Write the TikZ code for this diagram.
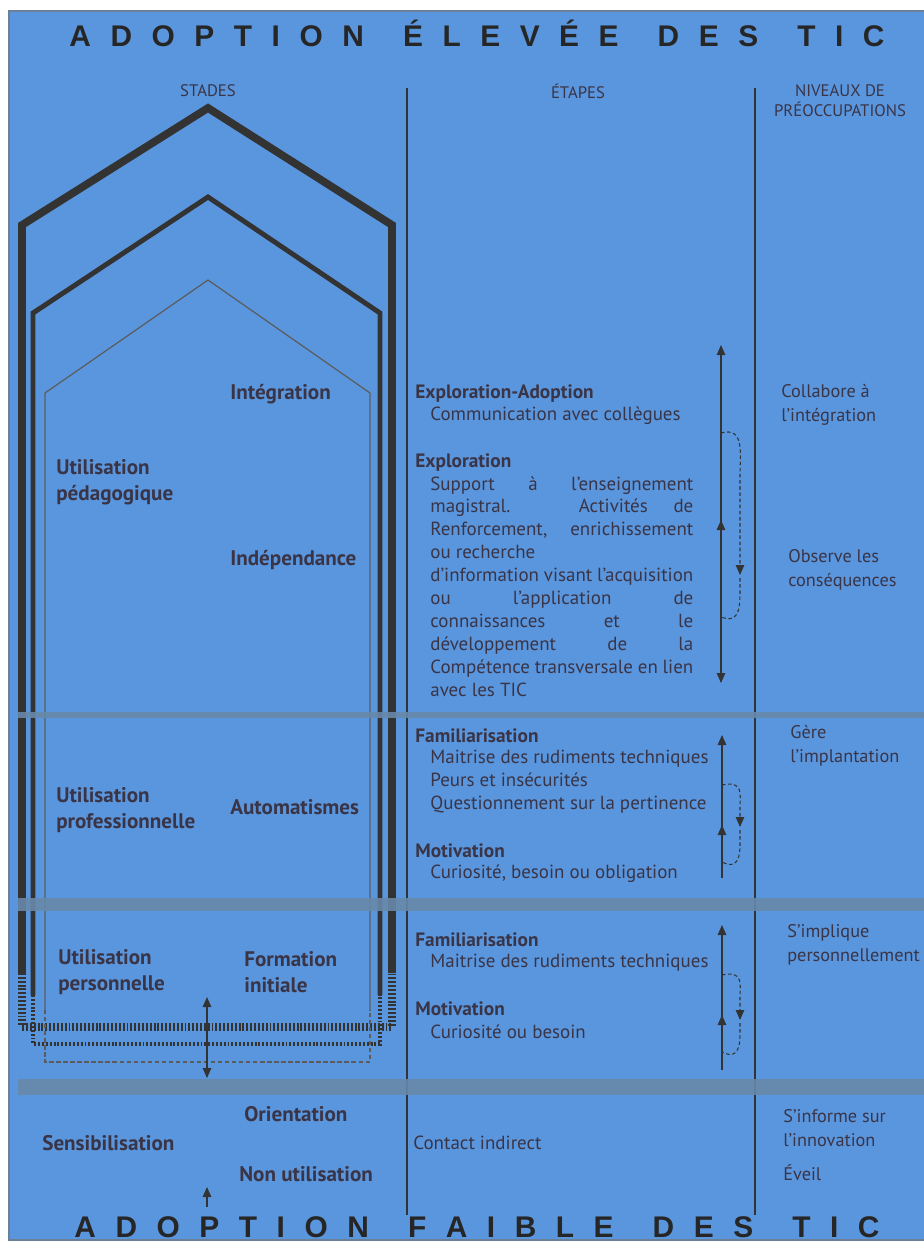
\documentclass[tikz,border=0pt]{standalone}
\usepackage{fontspec}
\setmainfont{PT Sans}
\newfontfamily\titlefont{Liberation Sans}
\usetikzlibrary{arrows.meta}
\definecolor{fondbleu}{HTML}{5A96DD}
\definecolor{bandegris}{HTML}{6888A9}
\definecolor{cadre}{HTML}{6B8097}
\definecolor{encre}{HTML}{3A3447}
\definecolor{trait}{HTML}{333333}
\tikzset{%
    >={Triangle[width=1.7mm,length=2mm]},
    base/.style = {
        inner sep=0pt, text=encre, align=left, anchor=west,
        font=\fontsize{10.8}{13}\selectfont
    },
    stade/.style = {base, font=\bfseries\fontsize{12}{14.5}\selectfont},
    etape/.style = {base, font=\bfseries\fontsize{11}{13}\selectfont},
    detail/.style = {base},
    niveau/.style = {base, font=\fontsize{10.4}{13.6}\selectfont},
    entete/.style = {base, anchor=center, align=center, font=\fontsize{9.5}{11.5}\selectfont},
    titre/.style = {inner sep=0pt, anchor=base, text=black!85,
        font=\titlefont\bfseries\fontsize{17}{19}\selectfont},
    bande/.style = {fill=bandegris, fill opacity=.9},
    colonne/.style = {draw=trait, line width=.7pt},
    fleche/.style = {draw=trait, line width=.6pt},
    boucle/.style = {draw=trait, line width=.6pt, dash pattern=on 2pt off 1.5pt},
    maison/.style = {draw=trait, line join=miter},
    echelle/.style = {dash pattern=on 1.1pt off 1.1pt},
}
\newcommand{\jligne}[1]{\makebox[52.6mm][s]{#1}}

\begin{document}
\begin{tikzpicture}[x=0.2mm, y=-0.2mm]
    \useasboundingbox (0,0) rectangle (924,1245);
    \fill[white] (0,0) rectangle (924,1245);
    \filldraw[fill=fondbleu, draw=cadre, line width=1.5pt] (9,11) rectangle (940,1240);

    % Titles
    \node (haut) [titre] at (477,46) {\makebox[163mm][s]{A\hfill D\hfill O\hfill P\hfill T\hfill I\hfill O\hfill N\hfill\hfill É\hfill L\hfill E\hfill V\hfill É\hfill E\hfill\hfill D\hfill E\hfill S\hfill\hfill T\hfill I\hfill C}};
    \node (bas) [titre] at (477,1237) {\makebox[161mm][s]{A\hfill D\hfill O\hfill P\hfill T\hfill I\hfill O\hfill N\hfill\hfill F\hfill A\hfill I\hfill B\hfill L\hfill E\hfill\hfill D\hfill E\hfill S\hfill\hfill T\hfill I\hfill C}};

    \node (stades)  [entete] at (208,91)  {STADES};
    \node (etapes)  [entete] at (578,91)  {ÉTAPES};
    \node (niveaux) [entete] at (840,101) {NIVEAUX DE\\PRÉOCCUPATIONS};

    % Column separators
    \coordinate (sep1h) at (407,88);  \coordinate (sep1b) at (407,1215);
    \coordinate (sep2h) at (755,88);  \coordinate (sep2b) at (755,1215);
    \draw[colonne] (sep1h) -- (sep1b);
    \draw[colonne] (sep2h) -- (sep2b);

    % Houses
    \draw[maison, line width=4.4pt] (22,973) -- (22,225) -- (208,108) -- (392,225) -- (392,973);
    \draw[maison, line width=4.4pt, echelle] (22,973) -- (22,1027) -- (392,1027) -- (392,973);
    \draw[maison, line width=2.8pt] (33,995) -- (33,313) -- (208,197) -- (380,313) -- (380,995);
    \draw[maison, line width=2.8pt, echelle] (33,995) -- (33,1044) -- (380,1044) -- (380,995);
    \draw[maison, draw=trait!80, line width=.7pt] (45,1010) -- (45,393) -- (208,280) -- (370,393) -- (370,1010);
    \draw[maison, draw=trait!80, line width=.7pt, dash pattern=on 2.5pt off 1.5pt] (45,1010) -- (45,1062) -- (370,1062) -- (370,1010);

    % Bands
    \fill[bande] (18,712) rectangle (924,718);
    \fill[bande] (18,898) rectangle (924,911);
    \fill[bande] (18,1079) rectangle (924,1095);

    % Stades
    \node (integ)   [stade] at (230,394)  {Intégration};
    \node (pedago)  [stade] at (56,482)   {Utilisation\\pédagogique};
    \node (indep)   [stade] at (230,560)  {Indépendance};
    \node (profes)  [stade] at (56,810)   {Utilisation\\professionnelle};
    \node (autom)   [stade] at (230,807)  {Automatismes};
    \node (perso)   [stade] at (58,972)   {Utilisation\\personnelle};
    \node (formin)  [stade] at (244,972)  {Formation\\initiale};
    \node (orient)  [stade] at (244,1114) {Orientation};
    \node (sensib)  [stade] at (42,1143)  {Sensibilisation};
    \node (nonutil) [stade] at (239,1174) {Non utilisation};

    % Etapes
    \node (explad)  [etape]  at (415,394) {Exploration-Adoption};
    \node (commu)   [detail] at (430,416) {Communication avec collègues};
    \node (explo)   [etape]  at (415,463) {Exploration};
    \node (support) [detail, anchor=north west, font=\fontsize{10.8}{13.04}\selectfont] at (430,476)
        {\jligne{Support à l'enseignement}\\
         \jligne{magistral. Activités de}\\
         \jligne{Renforcement, enrichissement}\\
         ou recherche\\
         \jligne{d'information visant l'acquisition}\\
         \jligne{ou l'application de}\\
         \jligne{connaissances et le}\\
         \jligne{développement de la}\\
         \jligne{Compétence transversale en lien}\\
         avec les TIC};
    \node (famil1)  [etape]  at (415,736) {Familiarisation};
    \node (maitr1)  [detail, font=\fontsize{10.8}{13.04}\selectfont] at (430,782)
        {Maitrise des rudiments techniques\\Peurs et insécurités\\Questionnement sur la pertinence};
    \node (motiv1)  [etape]  at (415,851) {Motivation};
    \node (curio1)  [detail] at (430,874) {Curiosité, besoin ou obligation};
    \node (famil2)  [etape]  at (415,940) {Familiarisation};
    \node (maitr2)  [detail] at (430,963) {Maitrise des rudiments techniques};
    \node (motiv2)  [etape]  at (415,1009) {Motivation};
    \node (curio2)  [detail] at (430,1032) {Curiosité ou besoin};
    \node (contact) [detail] at (413,1143) {Contact indirect};

    % Niveaux
    \node (collab)  [niveau] at (781,405)  {Collabore à\\l'intégration};
    \node (observ)  [niveau] at (788,570)  {Observe les\\conséquences};
    \node (gere)    [niveau] at (790,746)  {Gère\\l'implantation};
    \node (impliq)  [niveau] at (787,945)  {S'implique\\personnellement};
    \node (inform)  [niveau] at (783,1128) {S'informe sur\\l'innovation};
    \node (eveil)   [niveau] at (783,1173) {Éveil};

    % Arrow specification
    \coordinate (fih) at (207,997);   \coordinate (fib) at (207,1078);
    \coordinate (nuh) at (207,1187);  \coordinate (nub) at (207,1207);
    \draw[fleche, <->] (fih) -- (fib);
    \draw[fleche, ->] (nub) -- (nuh);

    \coordinate (a1h) at (721,345);   \coordinate (a1b) at (721,683);
    \coordinate (a1mh) at (721,520);  \coordinate (a1mb) at (721,540);
    \draw[fleche, <->] (a1h) -- (a1b);
    \draw[fleche, ->] (a1mb) -- (a1mh);
    \draw[trait, line width=1.6pt] (721,452) -- (721,485);
    \draw[boucle, ->] (721,433) .. controls (745,426) and (740,455) .. (740,475) -- (740,575);
    \draw[boucle] (740,578) -- (740,595) .. controls (740,622) and (730,620) .. (721,617);

    \coordinate (a2h) at (722,735);   \coordinate (a2b) at (722,878);
    \coordinate (a2mh) at (722,825);  \coordinate (a2mb) at (722,845);
    \draw[fleche, ->] (a2b) -- (a2h);
    \draw[fleche, ->] (a2mb) -- (a2mh);
    \draw[trait, line width=1.4pt] (722,810) -- (722,828);
    \draw[boucle, ->] (722,785) .. controls (744,780) and (740,795) .. (740,807) -- (740,827);
    \draw[boucle] (740,830) -- (740,845) .. controls (740,868) and (730,866) .. (722,862);

    \coordinate (a3h) at (722,925);   \coordinate (a3b) at (722,1070);
    \coordinate (a3mh) at (722,1015); \coordinate (a3mb) at (722,1035);
    \draw[fleche, ->] (a3b) -- (a3h);
    \draw[fleche, ->] (a3mb) -- (a3mh);
    \draw[trait, line width=1.4pt] (722,1000) -- (722,1018);
    \draw[boucle, ->] (722,975) .. controls (744,970) and (740,985) .. (740,997) -- (740,1020);
    \draw[boucle] (740,1023) -- (740,1035) .. controls (740,1058) and (730,1056) .. (722,1052);
\end{tikzpicture}
\end{document}
